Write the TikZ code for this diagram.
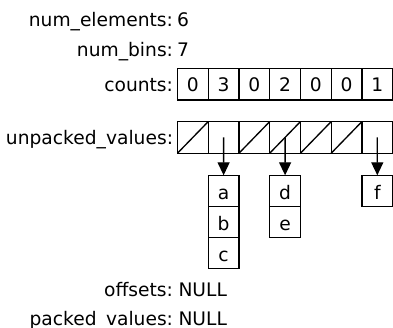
\documentclass[tikz,border=0pt]{standalone}
\usepackage{fontspec}
\setmainfont{DejaVu Sans}
\usetikzlibrary{arrows.meta}
\begin{document}
\begin{tikzpicture}[x=0.75pt,y=-0.75pt,
  every node/.style={inner sep=0pt, outer sep=0pt, font=\fontsize{14}{16}\selectfont},
  lbl/.style={anchor=base east},
  val/.style={anchor=base west},
  cell/.style={draw, line width=1pt, minimum width=23.05pt, minimum height=23.7pt, text height=11pt, text depth=0pt},
  item/.style={draw, line width=1pt, minimum width=23.1pt, minimum height=23.25pt, text height=13.5pt, text depth=0pt},
  ptr/.style={line width=1pt, -{Triangle[length=9.75pt,width=9pt]}},
  slash/.style={line width=1pt}]
\useasboundingbox (0,0) rectangle (393,328);
% scalar fields
\node[lbl] (l1) at (173,26.7) {num\_elements:};
\node[val] (v1) at (177,26.7) {6};
\node[lbl] (l2) at (173,56.7) {num\_bins:};
\node[val] (v2) at (177,56.7) {7};
\node[lbl] (l3) at (173,91.3) {counts:};
\node[lbl] (l4) at (173,145) {unpacked\_values:};
\node[lbl] (l5) at (173,296.5) {offsets:};
\node[val] (v5) at (178.5,296.5) {NULL};
\node[lbl] (l6) at (173,325.5) {packed\_values:};
\node[val] (v6) at (178.5,325.5) {NULL};
% counts array
\foreach \v [count=\i from 0] in {0,3,0,2,0,0,1}
  \node[cell] (c\i) at ({177.5+30.74*(\i+0.5)},84.2) {\v};
% unpacked_values array
\foreach \i in {0,...,6}
  \node[cell] (u\i) at ({177.5+30.74*(\i+0.5)},137.4) {};
\foreach \i in {0,2,3,4,5}
  \draw[slash] (u\i.south west) -- (u\i.north east);
% value lists
\node[item] (a) at (223.6,190.8) {a};
\node[item] (b) at (223.6,221.8) {b};
\node[item] (cc) at (223.6,252.8) {c};
\node[item] (d) at (285.1,190.8) {d};
\node[item] (e) at (285.1,221.8) {e};
\node[item] (f) at (377.3,190.8) {f};
% pointers
\draw[ptr] (u1.center) -- (a.north);
\draw[ptr] (u3.center) -- (d.north);
\draw[ptr] (u6.center) -- (f.north);
\end{tikzpicture}
\end{document}
